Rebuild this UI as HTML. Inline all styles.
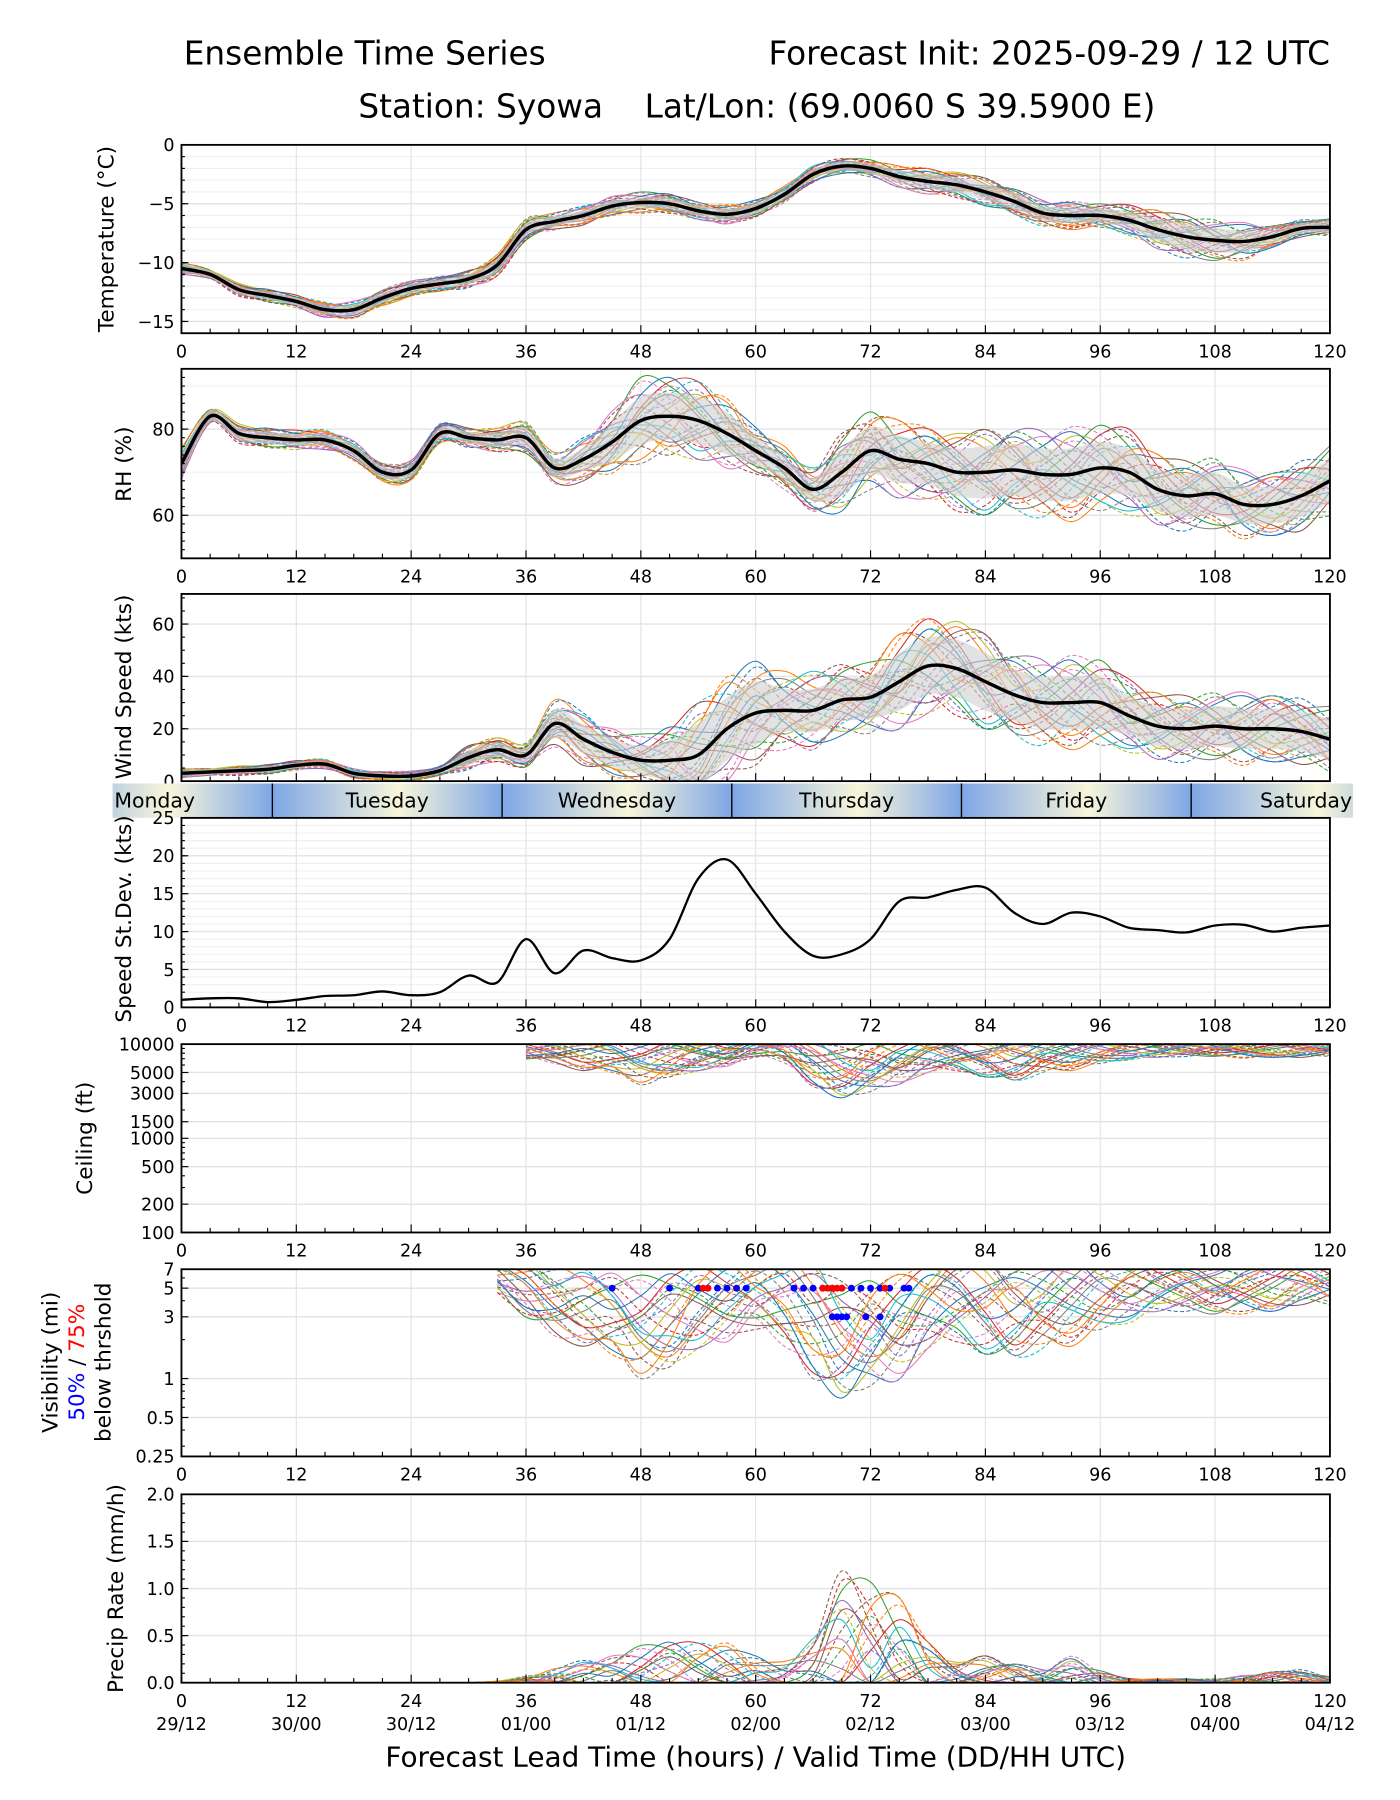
<!DOCTYPE html>
<html><head><meta charset="utf-8"><title>Ensemble Time Series - Syowa</title>
<style>
html,body{margin:0;padding:0;background:#fff;}
svg{display:block;font-family:"DejaVu Sans","Liberation Sans",sans-serif;}
</style></head>
<body>
<svg id="fig" width="1400" height="1800" viewBox="0 0 1219 1567" xmlns="http://www.w3.org/2000/svg">
<defs>
<linearGradient id="dayGrad" x1="0" x2="1" y1="0" y2="0">
<stop offset="0" stop-color="#7ea6e6"/><stop offset="0.55" stop-color="#f8f6da"/><stop offset="1" stop-color="#7ea6e6"/>
</linearGradient>
</defs>
<text x="160" y="56" font-size="28.5">Ensemble Time Series</text>
<text x="1158" y="56" font-size="28.5" text-anchor="end">Forecast Init: 2025-09-29 / 12 UTC</text>
<text x="659" y="102" font-size="28.5" text-anchor="middle" xml:space="preserve">Station: Syowa    Lat/Lon: (69.0060 S 39.5900 E)</text>
<g id="layer"></g>
</svg>
<script>
// ---- data (3-hourly, lead hours 0..120) ----
const hours = [0,3,6,9,12,15,18,21,24,27,30,33,36,39,42,45,48,51,54,57,60,63,66,69,72,75,78,81,84,87,90,93,96,99,102,105,108,111,114,117,120];
const xTickLabels = ["0","12","24","36","48","60","72","84","96","108","120"];
const dateLabels = ["29/12","30/00","30/12","01/00","01/12","02/00","02/12","03/00","03/12","04/00","04/12"];
const dayNames = ["Monday","Tuesday","Wednesday","Thursday","Friday","Saturday"];
const dayBoundaries = [9.5,33.5,57.5,81.5,105.5];

const tempMean = [-10.5,-11.0,-12.3,-12.8,-13.3,-14.0,-14.0,-13.0,-12.2,-11.8,-11.4,-10.2,-7.2,-6.5,-6.0,-5.2,-4.9,-5.0,-5.6,-5.9,-5.4,-4.2,-2.5,-1.8,-2.0,-2.7,-3.1,-3.4,-4.0,-4.8,-5.8,-6.0,-6.0,-6.4,-7.2,-7.8,-8.1,-8.2,-7.8,-7.1,-7.0];
const tempSpread = [0.6,0.6,0.6,0.6,0.6,0.7,0.8,0.8,0.7,0.7,0.8,1.0,1.0,0.8,0.8,0.9,0.9,0.9,0.8,0.9,0.8,0.7,0.7,0.7,0.8,1.0,1.2,1.2,1.3,1.3,1.2,1.2,1.1,1.3,1.8,2.0,1.9,1.6,1.0,0.8,0.8];

const rhMean = [72,83,79,78,77.5,77.5,75,70,70.5,79,78,77.5,78,71,73,77,82,83,82,79,75,71,66,70,75,73,72,70,70,70.5,69.5,69.5,71,70,66,64.5,65,62.5,62.5,64.5,68];
const rhSpread = [4,2.5,2.5,2.5,2.5,2.5,2.5,2.5,2.5,2.5,2.5,3,4,4,5,8,10,10,10,9,6,5,5,10,10,10,9,10,11,11,11,11,11,10,9,9,9,8,8,9,9];

const windMean = [3,3.5,4,4.5,6,6.5,3,2,2,4,9,12,10,22,16,11,8,8,10,20,26,27,27,31,32,38,44,43,38,33,30,30,30,25,21,20,21,20,20,19,16];
const windSpread = [2,2,2,2,2,2,2,2,2,2,5,5,5,10,10,10,10,14,22,22,22,15,15,15,15,20,20,20,20,18,18,18,18,14,14,14,14,14,14,14,14];

const sdValues = [1.0,1.2,1.2,0.7,1.0,1.5,1.6,2.1,1.6,2.0,4.2,3.3,9.0,4.5,7.5,6.5,6.2,9.0,17.0,19.5,15.0,10.0,6.8,7.0,9.0,14.0,14.5,15.5,15.8,12.5,11.0,12.5,12.0,10.5,10.2,9.9,10.8,10.9,10.0,10.5,10.8];

const ceilLogMean = [null,null,null,null,null,null,null,null,null,null,null,null,3.95,3.93,3.9,3.88,3.82,3.85,3.88,3.9,3.97,3.95,3.8,3.7,3.75,3.8,3.88,3.88,3.85,3.82,3.88,3.9,3.93,3.95,3.95,3.96,3.96,3.95,3.95,3.95,3.96];
const ceilLogSpread = [0,0,0,0,0,0,0,0,0,0,0,0,0.12,0.15,0.18,0.2,0.25,0.22,0.18,0.15,0.12,0.15,0.25,0.3,0.28,0.25,0.2,0.18,0.22,0.25,0.2,0.18,0.15,0.12,0.1,0.1,0.1,0.1,0.1,0.1,0.1];

const visLogMean = [null,null,null,null,null,null,null,null,null,null,null,0.8,0.7,0.6,0.55,0.5,0.4,0.45,0.55,0.6,0.65,0.6,0.45,0.3,0.35,0.4,0.55,0.6,0.55,0.5,0.55,0.6,0.65,0.68,0.7,0.7,0.68,0.7,0.7,0.75,0.75];
const visLogSpread = [0,0,0,0,0,0,0,0,0,0,0,0.15,0.25,0.3,0.3,0.35,0.4,0.4,0.35,0.35,0.3,0.35,0.45,0.5,0.45,0.45,0.35,0.35,0.4,0.4,0.35,0.35,0.3,0.25,0.2,0.2,0.2,0.2,0.2,0.2,0.2];
const vis50Hours = [45,51,54,55,56,57,58,59,64,65,66,67,68,69,70,71,72,73,74,75.5,76];
const vis75Hours = [54.5,55,67,67.5,68,68.5,69,73.5];
const vis3Hours = [68,68.5,69,69.5,71.5,73];

const precipMean = [0,0,0,0,0,0,0,0,0,0,0,0.005,0.01,0.03,0.04,0.05,0.07,0.08,0.07,0.07,0.05,0.03,0.08,0.25,0.25,0.2,0.08,0.04,0.05,0.04,0.02,0.02,0.01,0.005,0.005,0.005,0.005,0.01,0.02,0.02,0.005];
const precipSpread = [0,0,0,0,0,0,0,0,0,0,0,0.01,0.05,0.1,0.15,0.2,0.25,0.3,0.3,0.3,0.2,0.15,0.3,0.8,0.7,0.6,0.3,0.15,0.2,0.15,0.1,0.2,0.1,0.03,0.03,0.03,0.03,0.05,0.08,0.1,0.05];

// member deviations (normalized, hand-typed)
const dev0 = [0.2,0.4,0.6,0.3,-0.1,-0.4,-0.6,-0.3,0.1,0.5,0.8,0.6,0.2,-0.2,-0.5,-0.8,-0.6,-0.1,0.3,0.7,0.9,0.5,0.1,-0.3,-0.7,-0.9,-0.5,0.0,0.4,0.7,0.4,-0.1,-0.5,-0.8,-0.4,0.2,0.6,0.9,0.5,0.0,-0.3];
const dev1 = [-0.3,-0.5,-0.2,0.2,0.6,0.8,0.4,-0.1,-0.6,-0.9,-0.5,0.0,0.5,0.9,0.7,0.2,-0.3,-0.7,-0.4,0.1,0.6,1.0,0.6,0.1,-0.4,-0.2,0.3,0.8,0.5,-0.1,-0.6,-1.0,-0.7,-0.2,0.3,0.6,0.2,-0.3,-0.7,-0.4,0.1];
const dev2 = [0.5,0.1,-0.4,-0.8,-0.5,0.0,0.4,0.8,0.5,0.1,-0.3,-0.6,-0.9,-0.4,0.2,0.6,1.0,0.7,0.2,-0.3,-0.6,-0.2,0.3,0.7,0.9,0.4,-0.2,-0.6,-0.9,-0.5,0.0,0.5,0.9,0.6,0.1,-0.4,-0.8,-0.5,0.0,0.4,0.8];
const dev3 = [-0.6,-0.2,0.3,0.7,0.9,0.4,-0.2,-0.6,-0.8,-0.3,0.2,0.7,0.4,-0.1,-0.5,-0.2,0.3,0.8,0.9,0.4,-0.2,-0.7,-0.9,-0.5,0.1,0.6,0.9,0.5,-0.1,-0.6,-0.3,0.2,0.7,1.0,0.6,0.0,-0.5,-0.2,0.4,0.7,0.3];
const dev4 = [0.8,0.6,0.2,-0.2,-0.7,-0.9,-0.3,0.3,0.7,0.4,-0.1,-0.4,-0.1,0.4,0.8,0.5,0.0,-0.5,-0.9,-0.6,-0.1,0.3,0.8,0.6,0.2,-0.3,-0.7,-0.4,0.2,0.8,0.9,0.3,-0.3,-0.6,-0.9,-0.5,0.1,0.5,0.8,0.4,-0.2];
const dev5 = [-0.1,0.3,0.7,0.5,0.0,-0.5,-0.8,-0.5,0.0,0.6,0.9,0.3,-0.3,-0.8,-1.0,-0.4,0.2,0.5,0.1,-0.4,-0.8,-0.5,0.0,0.5,0.3,-0.2,0.2,0.7,0.9,0.4,-0.2,-0.5,-0.1,0.4,0.8,0.9,0.4,-0.2,-0.6,-0.9,-0.5];
const dev6 = [0.3,-0.2,-0.6,-0.3,0.3,0.6,0.9,0.5,-0.1,-0.4,-0.7,-0.9,-0.4,0.1,0.5,0.9,0.6,0.1,-0.5,-0.9,-0.4,0.2,0.5,0.2,-0.3,-0.8,-0.9,-0.3,0.3,0.5,0.8,0.6,0.1,-0.4,-0.2,0.3,0.7,1.0,0.5,-0.1,-0.6];
const dev7 = [-0.8,-0.6,-0.1,0.4,0.2,-0.2,0.2,0.6,0.9,0.7,0.3,-0.2,-0.7,-0.5,-0.1,0.3,-0.2,-0.6,-0.3,0.3,0.5,0.8,0.4,-0.1,-0.5,-0.1,0.4,0.2,-0.3,-0.8,-0.6,-0.1,0.4,0.2,-0.3,-0.7,-0.9,-0.4,0.2,0.6,0.9];
const dev8 = [0.0,0.5,0.9,0.6,0.2,0.2,-0.2,-0.7,-0.4,0.0,0.4,0.9,0.8,0.3,-0.2,-0.6,-0.3,0.2,0.6,0.3,-0.2,-0.6,-0.3,-0.8,-0.6,0.0,0.5,0.9,0.7,0.2,0.3,0.8,0.5,-0.1,-0.6,-0.3,0.2,0.0,-0.4,-0.2,0.2];
const dev9 = [0.6,0.2,0.0,-0.5,-0.3,0.2,0.6,0.2,-0.4,-0.7,-0.2,0.3,0.6,0.4,0.9,0.4,-0.1,-0.3,-0.7,-0.2,0.2,0.6,1.0,0.4,-0.1,0.5,0.2,-0.4,-0.8,-0.3,0.1,-0.2,-0.7,-0.9,-0.3,0.2,0.0,0.6,0.9,0.6,0.0];
const dev10 = [-0.4,0.0,0.4,0.9,0.6,0.3,0.0,-0.3,0.3,0.8,0.4,-0.3,-0.6,-0.2,0.3,0.1,0.6,0.9,0.4,0.0,0.3,-0.3,-0.8,-0.9,-0.4,0.3,0.7,0.3,-0.2,0.1,0.6,0.9,0.3,-0.2,0.4,0.7,0.2,-0.6,-0.9,-0.7,-0.3];
const dev11 = [0.9,0.4,-0.3,0.0,0.4,0.7,0.2,-0.8,-0.9,-0.2,0.1,0.5,0.1,-0.5,-0.8,-0.6,-0.9,-0.4,0.5,0.8,0.2,-0.1,-0.5,-0.2,0.6,0.9,0.4,-0.2,0.0,0.5,-0.3,-0.7,-0.3,0.5,0.9,0.4,-0.1,0.3,0.8,0.2,-0.6];
const devs = [dev0,dev1,dev2,dev3,dev4,dev5,dev6,dev7,dev8,dev9,dev10,dev11];
const colors = ["#1f77b4","#ff7f0e","#2ca02c","#d62728","#9467bd","#8c564b","#e377c2","#7f7f7f","#bcbd22","#17becf"];

// ---- layout ----
const X0 = 158, X1 = 1158;
const xs = h => X0 + (h/120)*(X1-X0);
const NS = "http://www.w3.org/2000/svg";
const layer = document.getElementById('layer');
const TF = 15.3; // tick font
function el(tag, attrs, parent){ const e=document.createElementNS(NS,tag); for(const k in attrs) e.setAttribute(k,attrs[k]); (parent||layer).appendChild(e); return e; }
function smooth(pts){
  if(pts.length<2) return "";
  let d="M"+pts[0][0].toFixed(1)+","+pts[0][1].toFixed(1);
  for(let i=0;i<pts.length-1;i++){
    const p0=pts[i-1]||pts[i], p1=pts[i], p2=pts[i+1], p3=pts[i+2]||p2;
    const c1=[p1[0]+(p2[0]-p0[0])/6, p1[1]+(p2[1]-p0[1])/6];
    const c2=[p2[0]-(p3[0]-p1[0])/6, p2[1]-(p3[1]-p1[1])/6];
    d+="C"+c1[0].toFixed(1)+","+c1[1].toFixed(1)+" "+c2[0].toFixed(1)+","+c2[1].toFixed(1)+" "+p2[0].toFixed(1)+","+p2[1].toFixed(1);
  }
  return d;
}
let clipId=0;
function makePanel(cfg){
  const g=el('g',{});
  
  
  const {top,bot}=cfg;
  const ys = cfg.log ? (v=>bot-(Math.log10(v)-Math.log10(cfg.min))/(Math.log10(cfg.max)-Math.log10(cfg.min))*(bot-top))
                     : (v=>bot-(v-cfg.min)/(cfg.max-cfg.min)*(bot-top));
  (cfg.minorGrid||[]).forEach(v=>{ el('line',{x1:X0,x2:X1,y1:ys(v),y2:ys(v),stroke:'#f0f0f0','stroke-width':1},g); });
  for(let h=12;h<120;h+=12) el('line',{x1:xs(h),x2:xs(h),y1:top,y2:bot,stroke:'#e3e3e3','stroke-width':1},g);
  cfg.ticks.forEach(v=>{ el('line',{x1:X0,x2:X1,y1:ys(v),y2:ys(v),stroke:'#e3e3e3','stroke-width':1.2},g); });
  const id='clip'+(clipId++);
  const cp=el('clipPath',{id:id},g); el('rect',{x:X0,y:top,width:X1-X0,height:bot-top},cp);
  const plot=el('g',{'clip-path':'url(#'+id+')'},g);
  for(let h=0;h<=120;h+=3){ const L=(h%12===0)?7:4; el('line',{x1:xs(h),x2:xs(h),y1:bot,y2:bot-L,stroke:'#000','stroke-width':1},g); }
  cfg.ticks.forEach((v,i)=>{
    el('line',{x1:X0,x2:X0+6,y1:ys(v),y2:ys(v),stroke:'#000','stroke-width':1},g);
    const t=el('text',{x:X0-6,y:ys(v)+5.5,'font-size':TF,'text-anchor':'end'},g);
    
    
    t.textContent=cfg.tickLabels[i];
  });
  (cfg.minorTicks||[]).forEach(v=>{ el('line',{x1:X0,x2:X0+3,y1:ys(v),y2:ys(v),stroke:'#000','stroke-width':1},g); });
  xTickLabels.forEach((lab,i)=>{
    const t=el('text',{x:xs(i*12),y:bot+21,'font-size':TF,'text-anchor':'middle'},g);
    
    
    t.textContent=lab;
  });
  el('rect',{x:X0,y:top,width:X1-X0,height:bot-top,fill:'none',stroke:'#000','stroke-width':1.6},g);
  return {g,plot,ys};
}
function drawMembers(plot, ys, mean, spread, opts){
  devs.forEach((dv,i)=>{
    [1,-1].forEach((sgn,k)=>{
      const pts=[];
      hours.forEach((h,j)=>{
        if(mean[j]===null) return;
        let v=mean[j]+sgn*(dv[j]||0)*spread[j]*(opts.scale||1);
        if(opts.log) v=Math.pow(10,v);
        if(opts.floor!==undefined) v=Math.max(opts.floor,v);
        pts.push([xs(h),ys(v)]);
      });
      const p=el('path',{d:smooth(pts),fill:'none',stroke:colors[(i+k*5)%10],'stroke-width':0.9,'stroke-dasharray':k?'3.5,2':'none'},plot);
      
      
    });
  });
}
function drawBandMean(plot, ys, mean, spread, name){
  const up=hours.map((h,j)=>[xs(h),ys(mean[j]+spread[j]*0.55)]);
  const lo=hours.map((h,j)=>[xs(h),ys(mean[j]-spread[j]*0.55)]).reverse();
  const band=el('path',{d:smooth(up)+"L"+smooth(lo).slice(1)+"Z",fill:'#cfcfcf','fill-opacity':0.6,stroke:'none'},plot);
  
  
}
function drawMean(plot, ys, mean, name){
  const m=el('path',{d:smooth(hours.map((h,j)=>[xs(h),ys(mean[j])])),fill:'none',stroke:'#000','stroke-width':3},plot);
  
  
}
function ylabel(lines, x, yc, name){
  const t=el('text',{transform:'translate('+x+','+yc+') rotate(-90)','font-size':18.8,'text-anchor':'middle'});
  
  
  t.textContent=lines;
  return t;
}
const range=(a,b,s)=>{const r=[];for(let v=a;v<=b+1e-9;v+=s)r.push(+v.toFixed(3));return r;};

// Temperature
let P=makePanel({name:'temperature',top:126,bot:290,min:-16,max:0,ticks:[0,-5,-10,-15],tickLabels:['0','\u22125','\u221210','\u221215'],minorGrid:range(-16,0,1),minorTicks:range(-16,0,1)});
drawMembers(P.plot,P.ys,tempMean,tempSpread,{name:'temperature'});
drawBandMean(P.plot,P.ys,tempMean,tempSpread,'temperature');
drawMean(P.plot,P.ys,tempMean,'temperature');
ylabel('Temperature (\u00b0C)',99,208,'temperature-y-axis-title');

// RH
P=makePanel({name:'rh',top:321,bot:486,min:50,max:94,ticks:[60,80],tickLabels:['60','80'],minorGrid:[70,90],minorTicks:range(52,94,2)});
drawMembers(P.plot,P.ys,rhMean,rhSpread,{name:'rh'});
drawBandMean(P.plot,P.ys,rhMean,rhSpread,'rh');
drawMean(P.plot,P.ys,rhMean,'rh');
ylabel('RH (%)',114,404,'rh-y-axis-title');

// Wind
P=makePanel({name:'wind',top:517,bot:680,min:0,max:71.5,ticks:[0,20,40,60],tickLabels:['0','20','40','60'],minorTicks:range(0,70,5)});
drawMembers(P.plot,P.ys,windMean,windSpread,{name:'wind',floor:0});
drawBandMean(P.plot,P.ys,windMean,windSpread,'wind');
drawMean(P.plot,P.ys,windMean,'wind');
ylabel('Wind Speed (kts)',114,598,'wind-y-axis-title');

// Day bar
const dayBar=el('g',{});


const segEdges=[-14.5].concat(dayBoundaries).concat([129.5]);
for(let i=0;i<6;i++){
  const r=el('rect',{x:xs(segEdges[i]),y:682,width:xs(segEdges[i+1])-xs(segEdges[i]),height:30,fill:'url(#dayGrad)'},dayBar);
  
  
}
const cl=el('clipPath',{id:'dayclip'},dayBar); el('rect',{x:X0-60,y:682,width:X1-X0+80,height:30},cl);
dayBar.setAttribute('clip-path','url(#dayclip)');
dayBoundaries.forEach(h=>el('line',{x1:xs(h),x2:xs(h),y1:682,y2:712,stroke:'#000','stroke-width':1.2},dayBar));
dayNames.forEach((n,i)=>{
  const c=(i===0)?xs(-2.8):(i===5?xs(117.5):xs((segEdges[i]+segEdges[i+1])/2));
  const t=el('text',{x:c,y:703,'font-size':17.8,'text-anchor':'middle'});
  
  
  t.textContent=n;
});

// Speed SD
P=makePanel({name:'speed-sd',top:712,bot:877,min:0,max:25,ticks:[0,5,10,15,20,25],tickLabels:['0','5','10','15','20','25'],minorGrid:range(0,25,1),minorTicks:range(0,25,1)});
{
  const l=el('path',{d:smooth(hours.map((h,j)=>[xs(h),P.ys(sdValues[j])])),fill:'none',stroke:'#000','stroke-width':2},P.plot);
  
  
}
ylabel('Speed St.Dev. (kts)',114,800,'speed-sd-y-axis-title');

// Ceiling
P=makePanel({name:'ceiling',top:909,bot:1073,min:100,max:10000,log:true,ticks:[100,200,500,1000,1500,3000,5000,10000],tickLabels:['100','200','500','1000','1500','3000','5000','10000'],minorTicks:[300,400,600,700,800,900,2000,4000,6000,7000,8000,9000]});
drawMembers(P.plot,P.ys,ceilLogMean,ceilLogSpread,{name:'ceiling',log:true});
ylabel('Ceiling (ft)',80,991,'ceiling-y-axis-title');

// Visibility
P=makePanel({name:'visibility',top:1105,bot:1268,min:0.25,max:7,log:true,ticks:[0.25,0.5,1,3,5,7],tickLabels:['0.25','0.5','1','3','5','7'],minorTicks:[0.3,0.4,0.6,0.7,0.8,0.9,2,4,6]});
drawMembers(P.plot,P.ys,visLogMean,visLogSpread,{name:'visibility',log:true});
vis50Hours.forEach(h=>{ const c=el('circle',{cx:xs(h),cy:P.ys(5),r:3,fill:'#0000ff'},P.plot);   });
vis75Hours.forEach(h=>{ const c=el('circle',{cx:xs(h),cy:P.ys(5),r:3,fill:'#ff0000'},P.plot);   });
vis3Hours.forEach(h=>{ const c=el('circle',{cx:xs(h),cy:P.ys(3),r:3,fill:'#0000ff'},P.plot);   });
{
  const t=el('text',{transform:'translate(50,1186) rotate(-90)','font-size':18.8,'text-anchor':'middle'});
  
  
  t.textContent='Visibility (mi)';
  const t2=el('text',{transform:'translate(73,1186) rotate(-90)','font-size':18.8,'text-anchor':'middle'});
  
  
  t2.innerHTML='<tspan fill="#0000ff">50%</tspan> / <tspan fill="#ff0000">75%</tspan>';
  const t3=el('text',{transform:'translate(96,1186) rotate(-90)','font-size':18.8,'text-anchor':'middle'});
  
  
  t3.textContent='below thrshold';
}

// Precip
P=makePanel({name:'precip',top:1301,bot:1465,min:0,max:2,ticks:[0,0.5,1,1.5,2],tickLabels:['0.0','0.5','1.0','1.5','2.0'],minorTicks:range(0,2,0.1)});
drawMembers(P.plot,P.ys,precipMean,precipSpread,{name:'precip',floor:0,scale:1.3});
ylabel('Precip Rate (mm/h)',107,1383,'precip-y-axis-title');

dateLabels.forEach((lab,i)=>{
  const t=el('text',{x:xs(i*12),y:1506,'font-size':TF,'text-anchor':'middle'});
  
  
  t.textContent=lab;
});
{
  const t=el('text',{x:658,y:1538,'font-size':24.3,'text-anchor':'middle'});
  
  
  t.textContent='Forecast Lead Time (hours) / Valid Time (DD/HH UTC)';
}
</script>
</body></html>
